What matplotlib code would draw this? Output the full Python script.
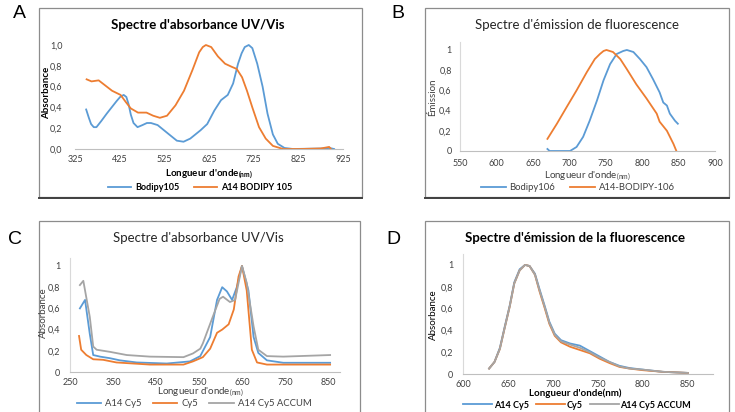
import numpy as np
import matplotlib
matplotlib.use("Agg")
import matplotlib.pyplot as plt
from matplotlib.patches import Rectangle
from matplotlib.ticker import FuncFormatter

plt.rcParams['font.family'] = ['Lato', 'DejaVu Sans']
plt.rcParams['mathtext.default'] = 'regular'

# ── data ─────────────────────────────────────────────────────────────────────
# A : UV/Vis absorbance, BODIPY
a_blue_x = [350, 356, 361, 367, 373, 384, 396, 407, 418, 426, 434, 440, 445, 450, 456,
            465, 476, 486, 495, 510, 530, 553, 568, 583, 606, 621, 637, 652, 667, 679,
            690, 698, 705, 714, 722, 733, 745, 756, 768, 779, 794, 813, 880, 895, 905]
a_blue_y = [0.38, 0.30, 0.24, 0.21, 0.21, 0.27, 0.34, 0.40, 0.46, 0.50, 0.52, 0.50,
            0.43, 0.33, 0.25, 0.21, 0.23, 0.25, 0.25, 0.23, 0.16, 0.08, 0.07, 0.10,
            0.18, 0.24, 0.37, 0.47, 0.52, 0.63, 0.82, 0.92, 0.98, 1.00, 0.97, 0.82,
            0.60, 0.34, 0.14, 0.05, 0.01, 0.0, 0.005, 0.01, 0.0]
a_orange_x = [351, 362, 378, 393, 408, 427, 439, 450, 466, 485, 500, 515, 531, 550,
              569, 588, 603, 611, 618, 630, 645, 661, 676, 687, 699, 710, 722, 737,
              752, 768, 791, 829, 875, 888, 894, 898]
a_orange_y = [0.67, 0.65, 0.66, 0.61, 0.56, 0.52, 0.45, 0.39, 0.35, 0.35, 0.32, 0.30,
              0.32, 0.42, 0.56, 0.76, 0.93, 0.98, 1.00, 0.98, 0.89, 0.82, 0.79, 0.77,
              0.69, 0.56, 0.40, 0.21, 0.10, 0.03, 0.0, 0.0, 0.005, 0.015, 0.02, 0.0]

# B : fluorescence emission, BODIPY
b_blue_x = [670, 673, 690, 701, 710, 719, 728, 738, 747, 756, 765, 774, 779, 788,
            797, 806, 815, 824, 829, 834, 838, 845, 849]
b_blue_y = [0.02, 0.0, 0.0, 0.0, 0.04, 0.14, 0.30, 0.50, 0.70, 0.86, 0.96, 0.99, 1.0,
            0.98, 0.91, 0.83, 0.71, 0.58, 0.48, 0.45, 0.37, 0.30, 0.27]
b_orange_x = [670, 683, 696, 710, 724, 735, 742, 747, 751, 760, 770, 779, 792, 806, 820,
              824, 834, 843, 847]
b_orange_y = [0.12, 0.27, 0.43, 0.60, 0.78, 0.91, 0.96, 0.99, 1.0, 0.98, 0.91, 0.81,
              0.66, 0.52, 0.37, 0.29, 0.20, 0.07, 0.0]

# C : UV/Vis absorbance, Cy5
c_blue_x = [273, 285, 296, 304, 320, 343, 366, 405, 475, 529, 553, 576, 592, 604,
            615, 627, 638, 650, 665, 677, 688, 708, 746, 855]
c_blue_y = [0.60, 0.68, 0.36, 0.16, 0.145, 0.13, 0.11, 0.09, 0.08, 0.10, 0.15, 0.33,
            0.68, 0.80, 0.76, 0.68, 0.80, 1.0, 0.77, 0.33, 0.18, 0.11, 0.087, 0.087]
c_orange_x = [271, 276, 288, 304, 327, 358, 397, 436, 514, 536, 559, 576, 592, 604,
              619, 631, 642, 650, 661, 673, 685, 708, 855]
c_orange_y = [0.34, 0.21, 0.16, 0.12, 0.115, 0.09, 0.08, 0.07, 0.07, 0.10, 0.14, 0.22,
              0.37, 0.40, 0.45, 0.59, 0.90, 1.0, 0.77, 0.21, 0.09, 0.07, 0.07]
c_grey_x = [273, 281, 296, 304, 312, 343, 382, 436, 514, 536, 553, 559, 582, 598,
            606, 622, 634, 650, 661, 677, 688, 708, 746, 855]
c_grey_y = [0.82, 0.86, 0.52, 0.24, 0.21, 0.19, 0.16, 0.145, 0.14, 0.175, 0.22, 0.27,
            0.52, 0.69, 0.71, 0.66, 0.68, 1.0, 0.84, 0.43, 0.21, 0.15, 0.145, 0.16]

# D : fluorescence emission, Cy5
d_x = [629, 635, 641, 646, 652, 657, 663, 669, 674, 680, 685, 691, 696, 702, 709,
       719, 730, 741, 752, 763, 774, 785, 800, 822, 850]
d_blue_y = [0.05, 0.11, 0.24, 0.42, 0.63, 0.84, 0.96, 1.0, 0.99, 0.92, 0.78, 0.62,
            0.48, 0.37, 0.31, 0.28, 0.26, 0.21, 0.16, 0.11, 0.075, 0.055, 0.04, 0.02, 0.01]
d_orange_y = [0.05, 0.11, 0.23, 0.41, 0.62, 0.83, 0.95, 1.0, 0.99, 0.91, 0.76, 0.60,
              0.46, 0.35, 0.29, 0.25, 0.22, 0.19, 0.14, 0.10, 0.065, 0.05, 0.035, 0.02, 0.01]
d_grey_y = [0.05, 0.11, 0.23, 0.41, 0.62, 0.83, 0.95, 1.0, 0.99, 0.91, 0.77, 0.61,
            0.47, 0.36, 0.30, 0.27, 0.24, 0.20, 0.15, 0.11, 0.07, 0.05, 0.04, 0.02, 0.01]

BLUE, ORANGE, GREY = "#5B9BD5", "#ED7D31", "#A5A5A5"
W, H = 735, 412

fig = plt.figure(figsize=(W / 100, H / 100), dpi=100)


def px_axes(l, r, top, bottom):
    return fig.add_axes([l / W, 1 - bottom / H, (r - l) / W, (bottom - top) / H])


def fx(x):
    return x / W


def fy(y):
    return 1 - y / H


def comma(dec):
    def f(v, pos):
        s = f"{v:.{dec}f}" if dec else f"{v:g}"
        return s.replace(".", ",")
    return FuncFormatter(f)


def style(ax, left_spine=True, ypad=6, xpad=5):
    for s in ("top", "right"):
        ax.spines[s].set_visible(False)
    ax.spines["left"].set_visible(left_spine)
    ax.spines["left"].set_color("#d9d9d9")
    ax.spines["bottom"].set_color("#bfbfbf")
    ax.tick_params(length=0, labelsize=6.5, colors="#404040")
    ax.tick_params(axis="y", pad=ypad)
    ax.tick_params(axis="x", pad=xpad)
    ax.set_facecolor("none")


# frames
for (l, r, t, b) in [(39, 362, 8, 197), (425, 729, 8, 197), (39, 360, 221, 420), (425, 729, 221, 420)]:
    fig.patches.append(Rectangle((fx(l), fy(b)), (r - l) / W, (b - t) / H,
                                 transform=fig.transFigure, fill=False,
                                 edgecolor="#8c8c8c", lw=0.9))
for (l, r, b) in [(39, 362, 197), (425, 729, 197)]:
    fig.lines.append(plt.Line2D([fx(l), fx(r)], [fy(b) - 0.002, fy(b) - 0.002],
                                transform=fig.transFigure, color="#404040", lw=1.4))

# panel letters
for txt, x, y in [("A", 19, 14), ("B", 398, 14), ("C", 15, 240), ("D", 393, 240)]:
    fig.text(fx(x), fy(y), txt, fontsize=14, ha="center", va="center",
             family=["Liberation Sans", "DejaVu Sans"])

lw = 1.3

# ── A ─────────────────────────────────────────────────────────────────────────
axA = px_axes(75, 343, 39.8, 149)
axA.plot(a_blue_x, a_blue_y, color=BLUE, lw=lw, label="Bodipy105")
axA.plot(a_orange_x, a_orange_y, color=ORANGE, lw=lw, label="A14 BODIPY 105")
axA.set_xlim(325, 925)
axA.set_ylim(0, 1.05)
axA.set_xticks([325, 425, 525, 625, 725, 825, 925])
axA.set_yticks([0, 0.2, 0.4, 0.6, 0.8, 1.0])
axA.yaxis.set_major_formatter(comma(1))
style(axA, left_spine=False, ypad=9, xpad=4)
fig.text(fx(198), fy(25), "Spectre d'absorbance UV/Vis", fontsize=9.5, weight="bold",
         ha="center", va="center")
fig.text(fx(47), fy(93), "Absorbance", fontsize=7, weight="bold", rotation=90,
         ha="center", va="center")
fig.text(fx(209), fy(174), "Longueur d'onde$_{(nm)}$", fontsize=7, weight="bold",
         ha="center", va="center")
axA.legend(loc="center", bbox_to_anchor=(fx(200), fy(188)), bbox_transform=fig.transFigure,
           ncol=2, frameon=False, handlelength=2.6, handletextpad=0.4,
           columnspacing=1.6, prop={"weight": "bold", "size": 6.5})

# ── B ─────────────────────────────────────────────────────────────────────────
axB = px_axes(460, 715, 41.9, 151)
axB.plot(b_blue_x, b_blue_y, color=BLUE, lw=lw, label="Bodipy106")
axB.plot(b_orange_x, b_orange_y, color=ORANGE, lw=lw, label="A14-BODIPY-106")
axB.set_xlim(550, 900)
axB.set_ylim(0, 1.08)
axB.set_xticks(range(550, 901, 50))
axB.set_yticks([0, 0.2, 0.4, 0.6, 0.8, 1.0])
axB.yaxis.set_major_formatter(comma(0))
style(axB, ypad=6, xpad=6)
fig.text(fx(577), fy(25), "Spectre d'émission de fluorescence", fontsize=9.5,
         ha="center", va="center", color="#262626")
fig.text(fx(433), fy(97), "Émission", fontsize=7, rotation=90, ha="center", va="center",
         color="#404040")
fig.text(fx(587), fy(176), "Longueur d'onde$_{(nm)}$", fontsize=7, ha="center",
         va="center", color="#404040")
axB.legend(loc="center", bbox_to_anchor=(fx(578), fy(188)), bbox_transform=fig.transFigure,
           ncol=2, frameon=False, fontsize=6.8, handlelength=2.6, handletextpad=0.4,
           columnspacing=1.6, labelcolor="#404040")

# ── C ─────────────────────────────────────────────────────────────────────────
axC = px_axes(70, 340, 257.5, 372)
axC.plot(c_blue_x, c_blue_y, color=BLUE, lw=lw, label="A14 Cy5")
axC.plot(c_orange_x, c_orange_y, color=ORANGE, lw=lw, label="Cy5")
axC.plot(c_grey_x, c_grey_y, color=GREY, lw=lw, label="A14 Cy5 ACCUM")
axC.set_xlim(250, 878)
axC.set_ylim(0, 1.08)
axC.set_xticks(range(250, 851, 100))
axC.set_yticks([0, 0.2, 0.4, 0.6, 0.8, 1.0])
axC.yaxis.set_major_formatter(comma(0))
style(axC, ypad=7, xpad=4)
fig.text(fx(198), fy(238), "Spectre d'absorbance UV/Vis", fontsize=9.5,
         ha="center", va="center", color="#262626")
fig.text(fx(43), fy(313), "Absorbance", fontsize=7, rotation=90, ha="center",
         va="center", color="#404040")
fig.text(fx(200), fy(392), "Longueur d'onde$_{(nm)}$", fontsize=7, ha="center",
         va="center", color="#404040")
axC.legend(loc="center", bbox_to_anchor=(fx(194), fy(404)), bbox_transform=fig.transFigure,
           ncol=3, frameon=False, fontsize=6.8, handlelength=2.6, handletextpad=0.4,
           columnspacing=1.2, labelcolor="#404040")

# ── D ─────────────────────────────────────────────────────────────────────────
axD = px_axes(463, 713, 254, 374)
axD.plot(d_x, d_blue_y, color=BLUE, lw=lw, label="A14 Cy5")
axD.plot(d_x, d_orange_y, color=ORANGE, lw=lw, label="Cy5")
axD.plot(d_x, d_grey_y, color=GREY, lw=lw, label="A14 Cy5 ACCUM")
axD.set_xlim(600, 878)
axD.set_ylim(0, 1.1)
axD.set_xticks(range(600, 851, 50))
axD.set_yticks([0, 0.2, 0.4, 0.6, 0.8, 1.0])
axD.yaxis.set_major_formatter(comma(0))
style(axD, ypad=7, xpad=4)
fig.text(fx(575), fy(238), "Spectre d'émission de la fluorescence", fontsize=9.5,
         weight="bold", ha="center", va="center")
fig.text(fx(433), fy(315), "Absorbance", fontsize=7, rotation=90, ha="center",
         va="center")
fig.text(fx(575), fy(393), "Longueur d'onde(nm)", fontsize=7, weight="bold",
         ha="center", va="center")
axD.legend(loc="center", bbox_to_anchor=(fx(577), fy(405)), bbox_transform=fig.transFigure,
           ncol=3, frameon=False, handlelength=3.2, handletextpad=0.2,
           columnspacing=0.8, prop={"weight": "bold", "size": 6.5})

fig.savefig("out.png", dpi=100)
